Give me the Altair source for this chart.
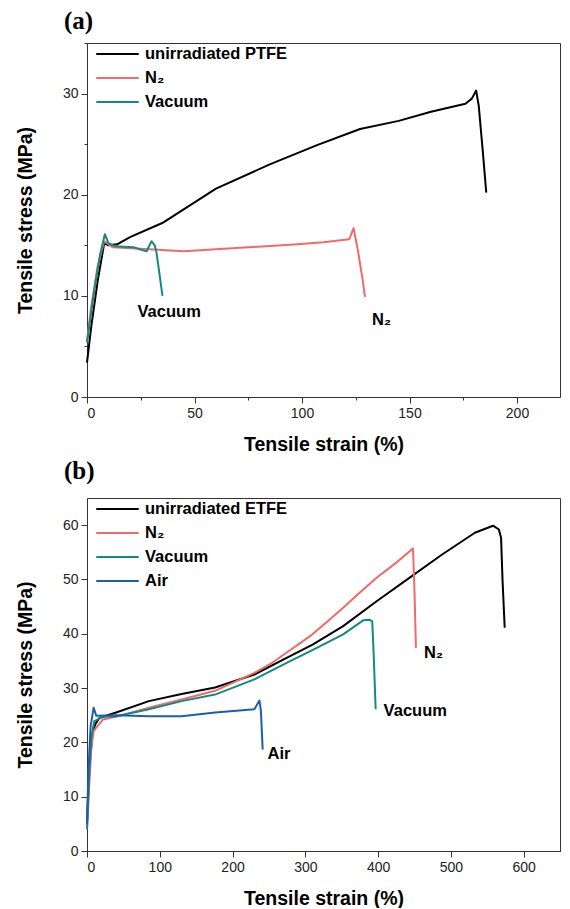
import altair as alt
import pandas as pd

# ---------------- Panel (a): PTFE ----------------
a_names = ["unirradiated PTFE", "N₂", "Vacuum"]
a_colors = ["#000000", "#F06A6A", "#138A80"]

a_ptfe_x = [0, 2, 5, 8, 10, 14, 20, 35, 60, 85, 107, 127, 145, 160, 176, 179, 181, 182.2, 184, 185.7]
a_ptfe_y = [3.4, 7, 11.5, 15.2, 15.0, 15.1, 15.8, 17.2, 20.6, 23.0, 24.9, 26.5, 27.3, 28.2, 29.0, 29.5, 30.3, 28.8, 24.5, 20.2]

a_n2_x = [0, 2, 5, 8, 12, 29, 45, 60, 75, 98, 110, 122, 124, 126, 128.2, 129.3]
a_n2_y = [5.5, 9, 13, 15.4, 14.8, 14.6, 14.4, 14.6, 14.8, 15.1, 15.3, 15.6, 16.7, 14.5, 11.6, 9.9]

a_vac_x = [0, 3, 6, 8.3, 10, 13.2, 21.6, 27.7, 30, 31.5, 32.3, 33.5, 35.1]
a_vac_y = [5.4, 10, 14, 16.1, 15.2, 14.9, 14.8, 14.4, 15.4, 15.0, 14.3, 12.5, 10.0]

a_label_text = ["Vacuum", "N₂"]
a_label_x = [23.5, 132.5]
a_label_y = [8.4, 7.6]

# ---------------- Panel (b): ETFE ----------------
b_names = ["unirradiated ETFE", "N₂", "Vacuum", "Air"]
b_colors = ["#000000", "#F06A6A", "#138A80", "#1B5DAE"]

b_etfe_x = [0, 2, 5, 8, 12, 17, 40, 85, 130, 176, 230, 275, 310, 352, 398, 443, 488, 533, 558, 566, 569, 571, 574]
b_etfe_y = [5, 12, 18, 22, 23.5, 24.5, 25.5, 27.6, 28.9, 30.1, 32.5, 35.6, 38.0, 41.4, 46.0, 50.3, 54.6, 58.6, 59.9, 59.2, 57.7, 50, 41.1]

b_n2_x = [0, 3, 6, 9, 12.7, 21.7, 40, 85, 130, 176, 230, 255, 275, 290, 307, 330, 352, 375, 398, 425, 448, 450, 452]
b_n2_y = [4, 12, 19, 22, 22.7, 24.2, 24.7, 26.4, 27.9, 29.5, 32.8, 34.7, 36.6, 38.0, 39.6, 42.2, 44.8, 47.6, 50.3, 53.1, 55.7, 48, 37.4]

b_vac_x = [0, 3, 6, 10, 21.7, 40, 85, 130, 176, 230, 275, 307, 352, 380, 388, 392, 394, 396.7]
b_vac_y = [4, 14, 21, 23.9, 24.7, 24.8, 26.1, 27.6, 28.8, 31.6, 34.7, 36.8, 39.9, 42.5, 42.6, 42.3, 36, 26.1]

b_air_x = [0, 2, 5, 9.1, 12.7, 40, 85, 130, 176, 230, 237, 239, 241.4]
b_air_y = [5, 15, 23, 26.4, 24.9, 25.0, 24.8, 24.8, 25.5, 26.1, 27.7, 25.8, 18.7]

b_label_text = ["N₂", "Vacuum", "Air"]
b_label_x = [463, 407.6, 248.2]
b_label_y = [36.5, 25.7, 17.9]

FONT = "Liberation Sans"


def series_frame(items):
    rows = []
    for name, xs, ys in items:
        for i, (x, y) in enumerate(zip(xs, ys)):
            rows.append({"series": name, "strain": x, "stress": y, "idx": i})
    return pd.DataFrame(rows)


def panel(items, names, colors, lab_t, lab_x, lab_y, xmax, xstep, xlabstep,
          ymax, ystep, ylabstep, width, height, title, title_dx, title_off, x_title_pad):
    df = series_frame(items)
    ann = pd.DataFrame({"t": lab_t, "strain": lab_x, "stress": lab_y})
    xvals = list(range(0, xmax + 1, xstep))
    yvals = list(range(0, ymax + 1, ystep))
    xaxis = alt.Axis(
        values=xvals,
        labelExpr=f"datum.value % {xlabstep} === 0 ? datum.label : ''",
        ticks=True, tickWidth=1, tickColor="#333333",
        tickSize={"condition": {"test": f"datum.value % {xlabstep} !== 0", "value": 3}, "value": 6},
        title="Tensile strain (%)",
        titlePadding=x_title_pad,
        grid=False,
    )
    yaxis = alt.Axis(
        values=yvals,
        labelExpr=f"datum.value % {ylabstep} === 0 ? datum.label : ''",
        ticks=True, tickWidth=1, tickColor="#333333",
        tickSize={"condition": {"test": f"datum.value % {ylabstep} !== 0", "value": 3}, "value": 6},
        title="Tensile stress (MPa)",
        titlePadding=27,
        grid=False,
    )
    x = alt.X("strain:Q", scale=alt.Scale(domain=[0, xmax], nice=False, zero=False), axis=xaxis)
    y = alt.Y("stress:Q", scale=alt.Scale(domain=[0, ymax], nice=False, zero=False), axis=yaxis)
    lines = alt.Chart(df).mark_line(strokeWidth=2, strokeJoin="round").encode(
        x=x,
        y=y,
        order="idx:Q",
        detail="series:N",
        color=alt.Color(
            "series:N",
            scale=alt.Scale(domain=names, range=colors),
            sort=names,
            legend=alt.Legend(
                title=None, orient="none", legendX=20.5, legendY=1,
                symbolType="M-2.5,0H2.5", symbolSize=289, symbolStrokeWidth=2.2,
                symbolFillColor="transparent",
                labelFont=FONT, labelFontWeight="bold", labelFontSize=16.5,
                labelColor="black", labelOffset=17.5, rowPadding=5, padding=0,
            ),
        ),
    )
    texts = alt.Chart(ann).mark_text(
        align="left", baseline="middle", font=FONT, fontWeight="bold",
        fontSize=16.5, color="black",
    ).encode(x="strain:Q", y="stress:Q", text="t:N")
    return alt.layer(lines, texts).properties(
        width=width, height=height,
        title=alt.TitleParams(
            title, anchor="start", frame="group", dx=title_dx, offset=title_off,
            font="Liberation Serif", fontSize=25, fontWeight="bold", color="black",
        ),
    )


top = panel(
    [(a_names[0], a_ptfe_x, a_ptfe_y), (a_names[1], a_n2_x, a_n2_y), (a_names[2], a_vac_x, a_vac_y)],
    a_names, a_colors, a_label_text, a_label_x, a_label_y,
    220, 25, 50, 35, 5, 10, 473, 354, "(a)", -23, 9, 15,
)
bottom = panel(
    [(b_names[0], b_etfe_x, b_etfe_y), (b_names[1], b_n2_x, b_n2_y),
     (b_names[2], b_vac_x, b_vac_y), (b_names[3], b_air_x, b_air_y)],
    b_names, b_colors, b_label_text, b_label_x, b_label_y,
    650, 50, 100, 65, 5, 10, 473, 353, "(b)", -23, 14, 15,
)

chart = alt.vconcat(top, bottom, spacing=4).resolve_scale(color="independent").properties(
    padding={"left": 6, "top": 0, "right": 0, "bottom": 0}
).configure_view(
    stroke="#333333", strokeWidth=1
).configure_axis(
    domainColor="#333333", tickColor="#333333", labelColor="#222222",
    labelFont=FONT, labelFontSize=14, titleFont=FONT, titleFontSize=19.5,
    titleFontWeight="bold", titleColor="black", labelPadding=3,
)

chart.save("out.html", embed_options={"renderer": "svg", "actions": False})
